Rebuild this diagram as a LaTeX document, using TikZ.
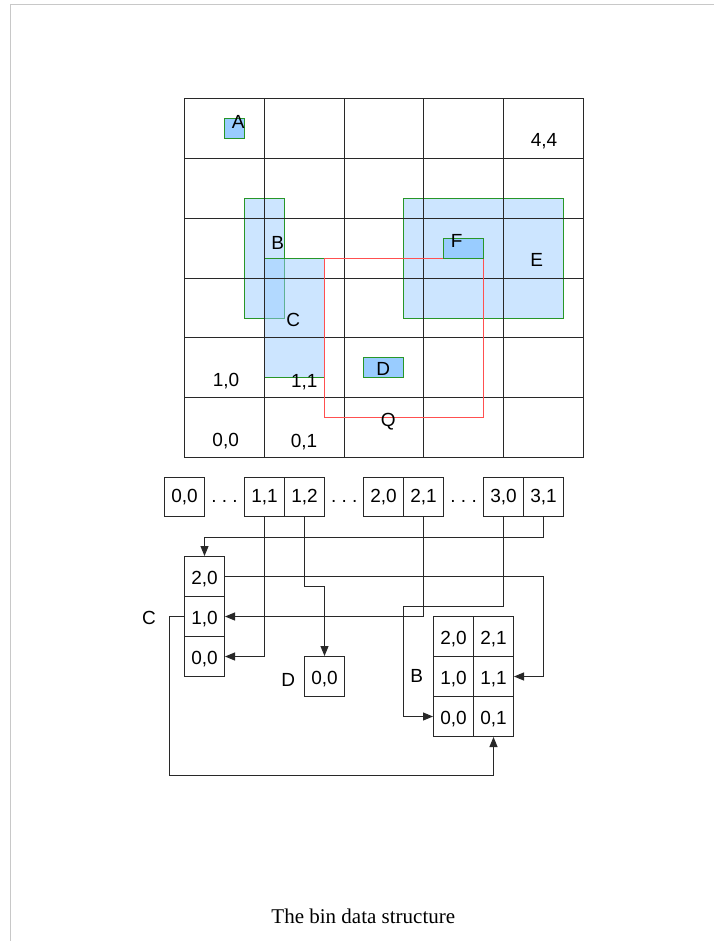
\documentclass[tikz,border=0pt]{standalone}
\usepackage{fontspec}
\setmainfont{Liberation Serif}
\newfontfamily\labfont{Liberation Sans}
\usetikzlibrary{arrows.meta,calc}
\definecolor{binblue}{RGB}{153,204,255}
\definecolor{bingreen}{RGB}{40,150,40}
\definecolor{binred}{RGB}{255,80,80}
\definecolor{gridgray}{RGB}{40,40,40}
\definecolor{framegray}{RGB}{200,200,200}
\tikzset{
  lab/.style={font=\labfont\fontsize{19}{21}\selectfont, inner sep=0pt, anchor=base},
  cell/.style={draw=gridgray, line width=1pt, minimum width=40pt, minimum height=40pt,
    inner sep=0pt, text height=16.6pt, text depth=0pt, font=\labfont\fontsize{19}{21}\selectfont},
  acell/.style={cell, minimum height=39pt, text height=10.2pt},
  conn/.style={draw=gridgray, line width=1pt},
  arr/.style={conn, -{Triangle[length=10pt,width=8pt]}},
  obj/.style={draw=bingreen, line width=1pt},
  lightobj/.style={obj, fill=binblue, fill opacity=0.5},
  darkobj/.style={obj, fill=binblue},
  gridline/.style={draw=gridgray, line width=1pt},
}
\begin{document}
\begin{tikzpicture}[x=1pt,y=-1pt]
\useasboundingbox (0,0) rectangle (714,941);
% frame
\draw[framegray, line width=1.2pt] (10,4.5) -- (714,4.5);
\draw[framegray, line width=1.2pt] (10.5,4) -- (10.5,941);
% ---------- upper plan ----------
\path[lightobj] (403.5,198.5) rectangle (563.5,318.5);   % E
\path[lightobj] (244.5,198.5) rectangle (284.5,318.5);   % B
\path[lightobj] (264.5,258.5) rectangle (324.5,377.5);   % C
% grid
\foreach \gx in {184.5,264.5,344.5,423.5,503.5,583.5}
  \draw[gridline] (\gx,98.5) -- (\gx,457.5);
\foreach \gy in {98.5,158.5,218.5,278.5,337.5,397.5,457.5}
  \draw[gridline] (184.5,\gy) -- (583.5,\gy);
% Q
\draw[binred, line width=1pt] (324.5,258.5) rectangle (483.5,417.5);
% small objects
\path[darkobj] (443.5,238.5) rectangle (483.5,258.5); % F
\path[darkobj] (224.5,118.5) rectangle (244.5,138.5); % A
\path[darkobj] (363.5,357.5) rectangle (403.5,377.5); % D
% labels
\node[lab] (lA) at (238.3,129) {A};
\node[lab] (lB) at (277.7,249) {B};
\node[lab] (lC) at (293.3,326.7) {C};
\node[lab] (lD) at (383.3,375.7) {D};
\node[lab] (lE) at (536.7,266) {E};
\node[lab] (lF) at (456.7,247.7) {F};
\node[lab] (lQ) at (388.3,426.7) {Q};
\node[lab] (g44) at (544,146.7) {4,4};
\node[lab] (g10) at (226,386) {1,0};
\node[lab] (g11) at (304.3,387.7) {1,1};
\node[lab] (g00) at (225.7,446) {0,0};
\node[lab] (g01) at (304,447.3) {0,1};
% ---------- array ----------
\node[acell] (a00) at (184.5,497) {0,0};
\node[acell] (a11) at (264.5,497) {1,1};
\node[acell] (a12) at (304.5,497) {1,2};
\node[acell] (a20) at (383.5,497) {2,0};
\node[acell] (a21) at (423.5,497) {2,1};
\node[acell] (a30) at (503.5,497) {3,0};
\node[acell] (a31) at (543.5,497) {3,1};
\node[lab, anchor=base] (dots1) at (224.5,502.3) {.\ .\ .};
\node[lab, anchor=base] (dots2) at (344.2,502.3) {.\ .\ .};
\node[lab, anchor=base] (dots3) at (463.6,502.3) {.\ .\ .};
% ---------- C ----------
\node[cell] (c20) at (204.5,576.5) {2,0};
\node[cell] (c10) at (204.5,616.5) {1,0};
\node[cell] (c00) at (204.5,656.5) {0,0};
\node[lab] (labC) at (149,624) {C};
% ---------- D ----------
\node[cell] (d00) at (324.5,676.5) {0,0};
\node[lab] (labD) at (288.3,686.7) {D};
% ---------- B ----------
\node[cell] (b20) at (453.5,636.5) {2,0};
\node[cell] (b21) at (493.5,636.5) {2,1};
\node[cell] (b10) at (453.5,676.5) {1,0};
\node[cell] (b11) at (493.5,676.5) {1,1};
\node[cell] (b00) at (453.5,716.5) {0,0};
\node[cell] (b01) at (493.5,716.5) {0,1};
\node[lab] (labB) at (416.7,682.3) {B};
% ---------- connectors ----------
\coordinate (t31) at (0,537.5);
\coordinate (t12) at (0,586.5);
\coordinate (t30) at (403.5,606.5);
\coordinate (tc) at (169.5,775.5);
\draw[arr] (a31.south) -- (a31.south |- t31) -| (c20.north);
\draw[arr] (c20.east) -- (c20.east -| a31.south) |- (b11.east);
\draw[arr] (a11.south) |- (c00.east);
\draw[arr] (a21.south) |- (c10.east);
\draw[arr] (a12.south) -- (a12.south |- t12) -| (d00.north);
\draw[arr] (a30.south) -- (a30.south |- t30) -- (t30) |- (b00.west);
\draw[arr] (c10.west) -| (tc) -| (b01.south);
% caption
\node[font=\fontsize{21}{24}\selectfont, inner sep=0pt, anchor=base] (cap) at (363.3,923.3) {The bin data structure};
\end{tikzpicture}
\end{document}
